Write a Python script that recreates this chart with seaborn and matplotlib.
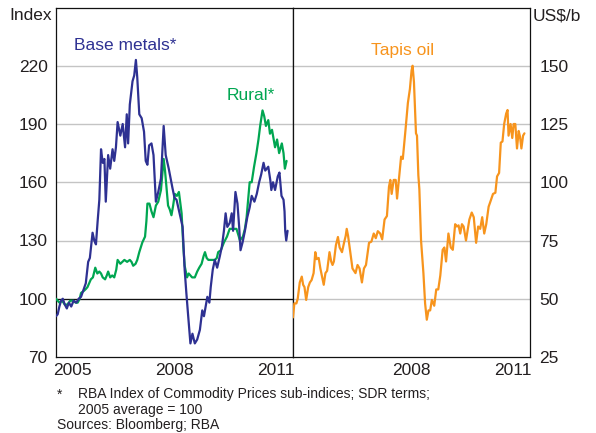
import matplotlib
matplotlib.use("Agg")
import matplotlib.pyplot as plt
import seaborn as sns
import pandas as pd

# ---------------- data (decimal years, values) ----------------
bm_t = [2005.00, 2005.05, 2005.10, 2005.15, 2005.20, 2005.26, 2005.32, 2005.38, 2005.45, 2005.52,
        2005.60, 2005.67, 2005.74, 2005.80, 2005.88, 2005.95, 2006.00, 2006.08, 2006.13, 2006.18,
        2006.23, 2006.28, 2006.33, 2006.38, 2006.43, 2006.47, 2006.54, 2006.60, 2006.67, 2006.72,
        2006.77, 2006.82, 2006.90, 2006.97, 2007.04, 2007.09, 2007.13, 2007.18, 2007.26, 2007.31,
        2007.36, 2007.40, 2007.46, 2007.53, 2007.60, 2007.65, 2007.70, 2007.75, 2007.82, 2007.88,
        2007.95, 2008.02, 2008.10, 2008.18, 2008.24, 2008.33, 2008.44, 2008.50, 2008.56, 2008.65,
        2008.74, 2008.80, 2008.85, 2008.90, 2008.97, 2009.03, 2009.10, 2009.17, 2009.25, 2009.32,
        2009.37, 2009.42, 2009.47, 2009.53, 2009.57, 2009.63, 2009.69, 2009.76, 2009.84, 2009.90,
        2009.96, 2010.01, 2010.06, 2010.13, 2010.19, 2010.23, 2010.30, 2010.36, 2010.41, 2010.45,
        2010.51, 2010.58, 2010.65, 2010.72, 2010.78, 2010.86, 2010.93, 2011.00, 2011.06, 2011.13,
        2011.18, 2011.27, 2011.33, 2011.36, 2011.41, 2011.47, 2011.55, 2011.60, 2011.66, 2011.72,
        2011.75, 2011.77, 2011.80, 2011.84]
bm_v = [91, 92, 96, 99, 100, 97, 95, 98, 96, 99,
        98, 100, 101, 104, 108, 119, 121, 134, 130, 128,
        140, 151, 177, 170, 172, 150, 174, 167, 177, 171,
        178, 191, 184, 190, 178, 195, 180, 200, 212, 215,
        223, 214, 195, 193, 186, 171, 169, 179, 180, 174,
        150, 155, 162, 189, 174, 167, 157, 152, 151, 144,
        137, 115, 103, 92, 77, 82, 77, 79, 84, 94,
        91, 96, 101, 98, 106, 115, 120, 116, 122, 127,
        135, 144, 137, 139, 144, 135, 155, 149, 137, 125,
        129, 135, 142, 147, 153, 150, 154, 160, 164, 170,
        166, 168, 161, 156, 160, 156, 163, 165, 153, 151,
        145, 135, 130, 135]

ru_t = [2005.00, 2005.05, 2005.10, 2005.18, 2005.26, 2005.34, 2005.42, 2005.50, 2005.58, 2005.64,
        2005.70, 2005.74, 2005.82, 2005.88, 2005.93, 2006.03, 2006.09, 2006.16, 2006.22, 2006.28,
        2006.33, 2006.38, 2006.45, 2006.50, 2006.54, 2006.60, 2006.66, 2006.72, 2006.78, 2006.82,
        2006.90, 2006.96, 2007.02, 2007.10, 2007.18, 2007.23, 2007.28, 2007.35, 2007.40, 2007.46,
        2007.55, 2007.63, 2007.67, 2007.70, 2007.76, 2007.82, 2007.88, 2007.95, 2008.02, 2008.10,
        2008.18, 2008.22, 2008.26, 2008.31, 2008.36, 2008.41, 2008.46, 2008.51, 2008.57, 2008.63,
        2008.71, 2008.76, 2008.80, 2008.87, 2008.92, 2008.97, 2009.02, 2009.10, 2009.17, 2009.23,
        2009.30, 2009.36, 2009.40, 2009.45, 2009.50, 2009.60, 2009.69, 2009.75, 2009.79, 2009.87,
        2009.96, 2010.05, 2010.13, 2010.23, 2010.33, 2010.40, 2010.43, 2010.52, 2010.58, 2010.63,
        2010.68, 2010.72, 2010.78, 2010.85, 2010.92, 2010.98, 2011.03, 2011.10, 2011.15, 2011.20,
        2011.27, 2011.32, 2011.38, 2011.47, 2011.53, 2011.59, 2011.67, 2011.72, 2011.76, 2011.81]
ru_v = [100, 99, 98, 99, 97, 97, 99, 99, 98, 98,
        100, 103, 104, 105, 106, 110, 111, 116, 113, 114,
        113, 111, 110, 112, 114, 111, 112, 111, 115, 120,
        118, 119, 120, 119, 120, 119, 117, 118, 120, 124,
        129, 132, 140, 149, 149, 145, 142, 148, 150, 156,
        172, 166, 158, 148, 146, 143, 148, 154, 153, 155,
        144, 127, 117, 111, 113, 112, 111, 111, 114, 116,
        118, 122, 124, 121, 120, 120, 120, 121, 124, 125,
        129, 132, 136, 136, 136, 132, 130, 132, 136, 142,
        152, 160, 160, 168, 175, 182, 189, 197, 194, 189,
        192, 185, 187, 178, 182, 175, 180, 175, 167, 171]

oil_t = [2005.00, 2005.04, 2005.10, 2005.14, 2005.20, 2005.26, 2005.30, 2005.34, 2005.39, 2005.45,
         2005.50, 2005.55, 2005.61, 2005.66, 2005.70, 2005.76, 2005.81, 2005.86, 2005.91, 2005.96,
         2006.01, 2006.08, 2006.13, 2006.17, 2006.21, 2006.27, 2006.33, 2006.38, 2006.45, 2006.51,
         2006.56, 2006.59, 2006.63, 2006.70, 2006.76, 2006.85, 2006.91, 2006.97, 2007.04, 2007.10,
         2007.16, 2007.25, 2007.32, 2007.39, 2007.45, 2007.51, 2007.58, 2007.64, 2007.71, 2007.78,
         2007.84, 2007.88, 2007.92, 2007.98, 2008.04, 2008.08, 2008.14, 2008.20, 2008.25, 2008.33,
         2008.40, 2008.46, 2008.51, 2008.54, 2008.58, 2008.64, 2008.67, 2008.71, 2008.74, 2008.79,
         2008.86, 2008.91, 2008.96, 2009.01, 2009.06, 2009.11, 2009.18, 2009.24, 2009.30, 2009.36,
         2009.43, 2009.48, 2009.53, 2009.60, 2009.67, 2009.73, 2009.80, 2009.85, 2009.90, 2009.95,
         2010.00, 2010.05, 2010.12, 2010.17, 2010.22, 2010.29, 2010.35, 2010.42, 2010.48, 2010.54,
         2010.60, 2010.66, 2010.72, 2010.79, 2010.85, 2010.92, 2010.99, 2011.04, 2011.10, 2011.15,
         2011.20, 2011.25, 2011.31, 2011.35, 2011.38, 2011.44, 2011.49, 2011.53, 2011.58, 2011.63,
         2011.68, 2011.72, 2011.76, 2011.81, 2011.85]
oil_v = [42, 48, 48, 50, 57, 59.5, 56, 55, 49.5, 55,
         57, 58, 61, 70, 67, 67.5, 63, 59.5, 56, 61,
         62, 70, 66, 64.5, 66, 73, 76.5, 72, 70, 74,
         77, 80, 77, 69.5, 63, 61, 64.5, 63, 57, 63,
         64.5, 74, 74.5, 78, 76, 79, 78, 75.5, 84, 85.5,
         98, 101, 95, 101, 101, 93, 102, 111, 110, 122.5,
         134, 140, 148, 150, 143, 121, 120, 103, 97, 75,
         61, 48, 41, 45, 45, 49.5, 47, 54, 54, 60,
         71, 72, 66, 78, 72, 71, 82, 81, 81.5, 78,
         82, 81, 75, 79.5, 84, 87, 85, 74, 81, 80,
         85, 78, 82, 89.5, 92, 95, 95.5, 102.5, 104, 117,
         117.5, 125, 129.5, 131, 120, 125, 119, 125, 125, 114.5,
         122, 119.5, 114.5, 120, 121]

left_yticks = [70, 100, 130, 160, 190, 220]
right_yticks = [25, 50, 75, 100, 125, 150]
year_bounds = [2006, 2007, 2008, 2009, 2010, 2011]
left_xlabels = ["2005", "2008", "2011"]
right_xlabels = ["2008", "2011"]

# ---------------- style ----------------
sns.set_style("white")
plt.rcParams["font.family"] = ["Liberation Sans", "DejaVu Sans"]

BLUE = "#2e3192"
GREEN = "#00a651"
ORANGE = "#f7941d"
GRID = "#c4c4c4"
TXT = "#231f20"

W, H = 596, 433
fig = plt.figure(figsize=(W / 100, H / 100), dpi=100)

def px_axes(x0, x1, y0, y1):
    return fig.add_axes([x0 / W, 1 - y1 / H, (x1 - x0) / W, (y1 - y0) / H])

axL = px_axes(56, 293, 7.5, 357)
axR = px_axes(293, 529.5, 7.5, 357)

df_bm = pd.DataFrame({"t": bm_t, "v": bm_v})
df_ru = pd.DataFrame({"t": ru_t, "v": ru_v})
df_oil = pd.DataFrame({"t": oil_t, "v": oil_v})

for ax, yt, ylim in [(axL, left_yticks, (70, 250)), (axR, right_yticks, (25, 175))]:
    ax.set_xlim(2005, 2012)
    ax.set_ylim(*ylim)
    ax.set_yticks(yt)
    for y in yt[1:]:
        ax.axhline(y, color=GRID, lw=1.0, zorder=0)
    ax.set_xticks(year_bounds)
    ax.tick_params(axis="x", which="major", direction="in", length=4.5, width=0.8,
                   color="#555555", labelbottom=False)
    ax.tick_params(axis="x", which="minor", length=0, labelsize=12.5, labelcolor=TXT, pad=4)
    ax.tick_params(axis="y", length=0, labelsize=12.5, labelcolor=TXT)
    for s in ax.spines.values():
        s.set_color("#111111")
        s.set_linewidth(0.9)
    ax.set_xlabel("")
    ax.set_ylabel("")

axL.axhline(100, color="#111111", lw=0.9, zorder=1)

sns.lineplot(data=df_ru, x="t", y="v", ax=axL, color=GREEN, lw=1.6, sort=False, estimator=None, zorder=3)
sns.lineplot(data=df_bm, x="t", y="v", ax=axL, color=BLUE, lw=1.6, sort=False, estimator=None, zorder=4)
sns.lineplot(data=df_oil, x="t", y="v", ax=axR, color=ORANGE, lw=1.6, sort=False, estimator=None, zorder=3)

for ax in (axL, axR):
    ax.set_xlabel("")
    ax.set_ylabel("")

axL.set_xticks([int(s) + 0.5 for s in left_xlabels], minor=True)
axL.set_xticklabels(left_xlabels, minor=True)
axR.set_xticks([int(s) + 0.5 for s in right_xlabels], minor=True)
axR.set_xticklabels(right_xlabels, minor=True)

axL.tick_params(axis="y", pad=6)
axR.yaxis.tick_right()
axR.tick_params(axis="y", pad=7, length=0)

def ftext(x, y, s, **kw):
    fig.text(x / W, 1 - y / H, s, **kw)

ftext(52, 15.5, "Index", ha="right", va="center", fontsize=12.5, color=TXT)
ftext(533, 15.5, "US$/b", ha="left", va="center", fontsize=12.5, color=TXT)
ftext(74, 45, "Base metals*", ha="left", va="center", fontsize=12.5, color=BLUE)
ftext(227, 95, "Rural*", ha="left", va="center", fontsize=12.5, color=GREEN)
ftext(371, 50, "Tapis oil", ha="left", va="center", fontsize=12.5, color=ORANGE)

ftext(57, 395, "*", ha="left", va="center", fontsize=10, color=TXT)
ftext(78, 394, "RBA Index of Commodity Prices sub-indices; SDR terms;", ha="left", va="center",
      fontsize=10, color=TXT)
ftext(78, 410, "2005 average = 100", ha="left", va="center", fontsize=10, color=TXT)
ftext(57, 425, "Sources: Bloomberg; RBA", ha="left", va="center", fontsize=10, color=TXT)

fig.savefig("out.png", dpi=100)
